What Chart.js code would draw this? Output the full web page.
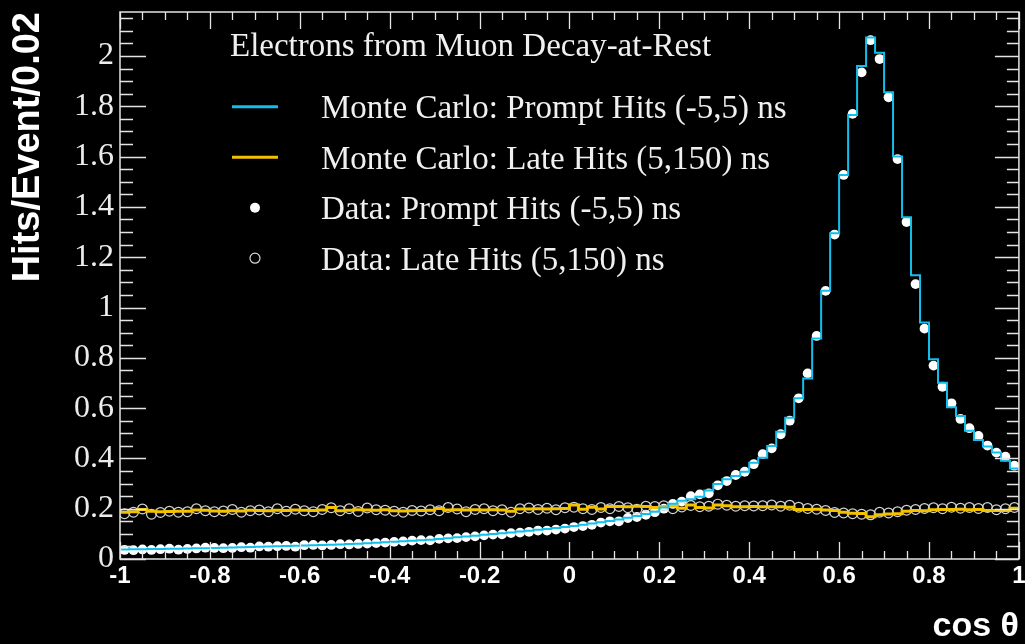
<!DOCTYPE html>
<html>
<head>
<meta charset="utf-8">
<title>Electrons from Muon Decay-at-Rest</title>
<script src="https://cdn.jsdelivr.net/npm/chart.js@4.4.0/dist/chart.umd.min.js"></script>
<style>
  html, body { margin: 0; padding: 0; background: #000; }
  #plot { display: block; }
</style>
</head>
<body>
<canvas id="plot" width="1025" height="644"></canvas>
<script>
// histogram binning: cos(theta) from -1 to 1, bins of 0.02
const xMin = -1;
const xMax = 1;
const binWidth = 0.02;
const yMax = 2.175;

const xTicks = [-1, -0.8, -0.6, -0.4, -0.2, 0, 0.2, 0.4, 0.6, 0.8, 1];
const yTicks = [0, 0.2, 0.4, 0.6, 0.8, 1, 1.2, 1.4, 1.6, 1.8, 2];

const legendTitle = 'Electrons from Muon Decay-at-Rest';
const seriesLabels = [
    'Monte Carlo: Prompt Hits (-5,5) ns',
    'Monte Carlo: Late Hits (5,150) ns',
    'Data: Prompt Hits (-5,5) ns',
    'Data: Late Hits (5,150) ns'
];

// Monte Carlo, prompt hits (one value per bin)
const mcPrompt = [
    0.038, 0.039, 0.039, 0.040, 0.040, 0.041, 0.041, 0.042, 0.043, 0.043,
    0.044, 0.045, 0.046, 0.047, 0.048, 0.049, 0.050, 0.051, 0.052, 0.053,
    0.054, 0.055, 0.056, 0.057, 0.058, 0.060, 0.061, 0.063, 0.065, 0.067,
    0.069, 0.071, 0.073, 0.075, 0.077, 0.080, 0.083, 0.086, 0.089, 0.092,
    0.096, 0.099, 0.102, 0.105, 0.109, 0.112, 0.116, 0.119, 0.123, 0.127,
    0.131, 0.136, 0.141, 0.146, 0.151, 0.157, 0.164, 0.171, 0.179, 0.188,
    0.205, 0.220, 0.232, 0.238, 0.248, 0.272, 0.298, 0.317, 0.330, 0.347,
    0.383, 0.403, 0.449, 0.506, 0.562, 0.639, 0.718, 0.877, 1.067, 1.295,
    1.527, 1.765, 1.960, 2.074, 2.013, 1.856, 1.600, 1.359, 1.128, 0.940,
    0.794, 0.701, 0.603, 0.569, 0.510, 0.473, 0.447, 0.423, 0.391, 0.360
];

// Monte Carlo, late hits
const mcLate = [
    0.186, 0.188, 0.197, 0.190, 0.188, 0.189, 0.190, 0.190, 0.195, 0.194,
    0.191, 0.190, 0.192, 0.191, 0.194, 0.193, 0.192, 0.194, 0.193, 0.195,
    0.194, 0.193, 0.195, 0.205, 0.192, 0.194, 0.196, 0.195, 0.194, 0.196,
    0.192, 0.191, 0.192, 0.193, 0.194, 0.201, 0.195, 0.196, 0.195, 0.196,
    0.195, 0.196, 0.195, 0.190, 0.199, 0.199, 0.200, 0.199, 0.200, 0.201,
    0.215, 0.198, 0.206, 0.199, 0.209, 0.209, 0.208, 0.210, 0.209, 0.205,
    0.209, 0.211, 0.202, 0.215, 0.205, 0.203, 0.215, 0.212, 0.208, 0.208,
    0.209, 0.208, 0.208, 0.208, 0.206, 0.197, 0.197, 0.198, 0.195, 0.193,
    0.186, 0.182, 0.181, 0.168, 0.176, 0.179, 0.180, 0.190, 0.193, 0.192,
    0.196, 0.197, 0.197, 0.198, 0.196, 0.197, 0.193, 0.193, 0.193, 0.202
];

// Data, prompt hits
const dataPrompt = [
    0.036, 0.035, 0.038, 0.036, 0.039, 0.041, 0.037, 0.040, 0.042, 0.045,
    0.044, 0.043, 0.044, 0.047, 0.045, 0.050, 0.049, 0.051, 0.052, 0.049,
    0.055, 0.056, 0.054, 0.056, 0.059, 0.058, 0.060, 0.061, 0.063, 0.065,
    0.068, 0.070, 0.073, 0.075, 0.074, 0.080, 0.082, 0.083, 0.087, 0.090,
    0.094, 0.097, 0.098, 0.103, 0.105, 0.108, 0.113, 0.113, 0.117, 0.121,
    0.127, 0.131, 0.136, 0.145, 0.150, 0.150, 0.163, 0.167, 0.176, 0.186,
    0.200, 0.219, 0.228, 0.250, 0.257, 0.261, 0.293, 0.310, 0.334, 0.347,
    0.377, 0.417, 0.440, 0.496, 0.550, 0.639, 0.738, 0.887, 1.066, 1.290,
    1.527, 1.770, 1.935, 2.063, 1.988, 1.836, 1.590, 1.340, 1.093, 0.916,
    0.769, 0.685, 0.619, 0.557, 0.520, 0.489, 0.451, 0.423, 0.407, 0.371
];

// Data, late hits
const dataLate = [
    0.180, 0.186, 0.199, 0.178, 0.185, 0.190, 0.186, 0.188, 0.200, 0.192,
    0.188, 0.191, 0.197, 0.186, 0.192, 0.195, 0.188, 0.200, 0.190, 0.198,
    0.192, 0.188, 0.197, 0.204, 0.192, 0.200, 0.189, 0.203, 0.196, 0.194,
    0.190, 0.186, 0.193, 0.191, 0.196, 0.192, 0.205, 0.199, 0.188, 0.197,
    0.200, 0.192, 0.196, 0.186, 0.200, 0.203, 0.197, 0.202, 0.196, 0.204,
    0.206, 0.200, 0.197, 0.205, 0.200, 0.209, 0.204, 0.198, 0.210, 0.209,
    0.212, 0.200, 0.207, 0.213, 0.208, 0.210, 0.218, 0.214, 0.210, 0.212,
    0.211, 0.212, 0.215, 0.210, 0.214, 0.206, 0.201, 0.198, 0.193, 0.185,
    0.183, 0.180, 0.178, 0.176, 0.186, 0.183, 0.188, 0.194, 0.197, 0.201,
    0.204, 0.200, 0.206, 0.202, 0.205, 0.201, 0.205, 0.196, 0.200, 0.205
];

const cyan = '#12bfec';
const gold = '#f2c200';

// step outline: one point per lower bin edge, plus the closing upper edge
function histPoints(values) {
    const pts = values.map((v, i) => ({ x: xMin + i * binWidth, y: v }));
    pts.push({ x: xMax, y: values[values.length - 1] });
    return pts;
}

function markerPoints(values) {
    return values.map((v, i) => ({ x: xMin + (i + 0.5) * binWidth, y: v }));
}

// frame with ROOT-style ticks on all four sides
const frameTicks = {
    id: 'frameTicks',
    afterDatasetsDraw(chart) {
        const { ctx, chartArea: a, scales: { x, y } } = chart;
        ctx.save();
        ctx.strokeStyle = '#e4e4e4';
        ctx.lineWidth = 1.5;
        ctx.strokeRect(a.left, a.top, a.right - a.left, a.bottom - a.top);
        ctx.lineWidth = 1.3;
        ctx.beginPath();
        for (let k = 0; k <= 40; k++) {
            const px = Math.round(x.getPixelForValue(xMin + k * 0.05)) + 0.5;
            const len = k % 4 === 0 ? 17 : 8;
            ctx.moveTo(px, a.bottom); ctx.lineTo(px, a.bottom - len);
            ctx.moveTo(px, a.top); ctx.lineTo(px, a.top + len);
        }
        for (let k = 0; k * 0.05 <= yMax; k++) {
            const py = Math.round(y.getPixelForValue(k * 0.05)) + 0.5;
            const major = k % 4 === 0;
            ctx.moveTo(a.left, py); ctx.lineTo(a.left + (major ? 26 : 13), py);
            ctx.moveTo(a.right, py); ctx.lineTo(a.right - (major ? 24 : 12), py);
        }
        ctx.stroke();
        ctx.restore();
    }
};

// legend box in the upper left, drawn like the ROOT TLegend
const rootLegend = {
    id: 'rootLegend',
    afterDraw(chart) {
        const ctx = chart.ctx;
        ctx.save();
        ctx.font = '33px "Liberation Serif", "DejaVu Serif", serif';
        ctx.fillStyle = '#f0f0f0';
        ctx.textBaseline = 'alphabetic';
        ctx.fillText(legendTitle, 230, 56);
        chart.data.datasets.forEach((ds, i) => {
            const cy = 106.7 + i * 50.5;
            if (ds.showLine) {
                ctx.strokeStyle = ds.borderColor;
                ctx.lineWidth = 3;
                ctx.beginPath();
                ctx.moveTo(232, cy); ctx.lineTo(278, cy);
                ctx.stroke();
            } else {
                ctx.beginPath();
                ctx.arc(255, cy, 5, 0, Math.PI * 2);
                if (ds.filled) {
                    ctx.fillStyle = '#ffffff';
                    ctx.fill();
                } else {
                    ctx.strokeStyle = '#d8d8d8';
                    ctx.lineWidth = 1.2;
                    ctx.stroke();
                }
            }
            ctx.fillStyle = '#f0f0f0';
            ctx.fillText(ds.label, 321, cy + 11.5);
        });
        ctx.restore();
    }
};

function initChart() {
    const ctx = document.getElementById('plot').getContext('2d');
    new Chart(ctx, {
        type: 'scatter',
        data: {
            datasets: [{
                label: seriesLabels[0],
                data: histPoints(mcPrompt),
                showLine: true,
                stepped: 'before',
                borderColor: cyan,
                borderWidth: 2,
                pointRadius: 0,
                order: 0
            }, {
                label: seriesLabels[1],
                data: histPoints(mcLate),
                showLine: true,
                stepped: 'before',
                borderColor: gold,
                borderWidth: 3,
                pointRadius: 0,
                order: 1
            }, {
                label: seriesLabels[2],
                data: markerPoints(dataPrompt),
                filled: true,
                pointRadius: 4.9,
                pointBackgroundColor: '#ffffff',
                pointBorderColor: '#ffffff',
                pointBorderWidth: 0,
                order: 3
            }, {
                label: seriesLabels[3],
                data: markerPoints(dataLate),
                filled: false,
                pointRadius: 4.9,
                pointBackgroundColor: 'rgba(0,0,0,0)',
                pointBorderColor: '#d4d4d4',
                pointBorderWidth: 1.2,
                order: 2
            }]
        },
        options: {
            responsive: false,
            animation: false,
            layout: { padding: { left: 0, right: 5, top: 12, bottom: 0 } },
            plugins: {
                legend: { display: false },
                tooltip: { enabled: false }
            },
            scales: {
                x: {
                    type: 'linear',
                    min: xMin,
                    max: xMax,
                    grid: { display: false, drawTicks: false },
                    border: { display: false },
                    afterBuildTicks: s => { s.ticks = xTicks.map(v => ({ value: v })); },
                    afterFit: s => { s.height = 85; s.paddingLeft = 0; s.paddingRight = 0; },
                    ticks: {
                        autoSkip: false,
                        maxRotation: 0,
                        padding: 3,
                        color: '#ffffff',
                        font: { family: '"Liberation Sans", Arial, sans-serif', size: 24, weight: 'bold' },
                        callback: v => String(v)
                    },
                    title: {
                        display: true,
                        text: 'cos θ',
                        align: 'end',
                        color: '#ffffff',
                        padding: { top: 0, bottom: 0 },
                        font: { family: '"Liberation Sans", Arial, sans-serif', size: 34, weight: 'bold', lineHeight: 1 }
                    }
                },
                y: {
                    type: 'linear',
                    min: 0,
                    max: yMax,
                    grid: { display: false, drawTicks: false },
                    border: { display: false },
                    afterBuildTicks: s => { s.ticks = yTicks.map(v => ({ value: v })); },
                    afterFit: s => { s.width = 120; s.paddingTop = 0; s.paddingBottom = 0; },
                    ticks: {
                        padding: 6,
                        color: '#ececec',
                        font: { family: '"Liberation Serif", "DejaVu Serif", serif', size: 32 },
                        callback: v => String(v)
                    },
                    title: {
                        display: true,
                        text: 'Hits/Event/0.02',
                        align: 'end',
                        color: '#ffffff',
                        padding: { top: 10, bottom: 0 },
                        font: { family: '"Liberation Sans", Arial, sans-serif', size: 38, weight: 'bold', lineHeight: 1 }
                    }
                }
            }
        },
        plugins: [frameTicks, rootLegend]
    });
}

initChart();
</script>
</body>
</html>
